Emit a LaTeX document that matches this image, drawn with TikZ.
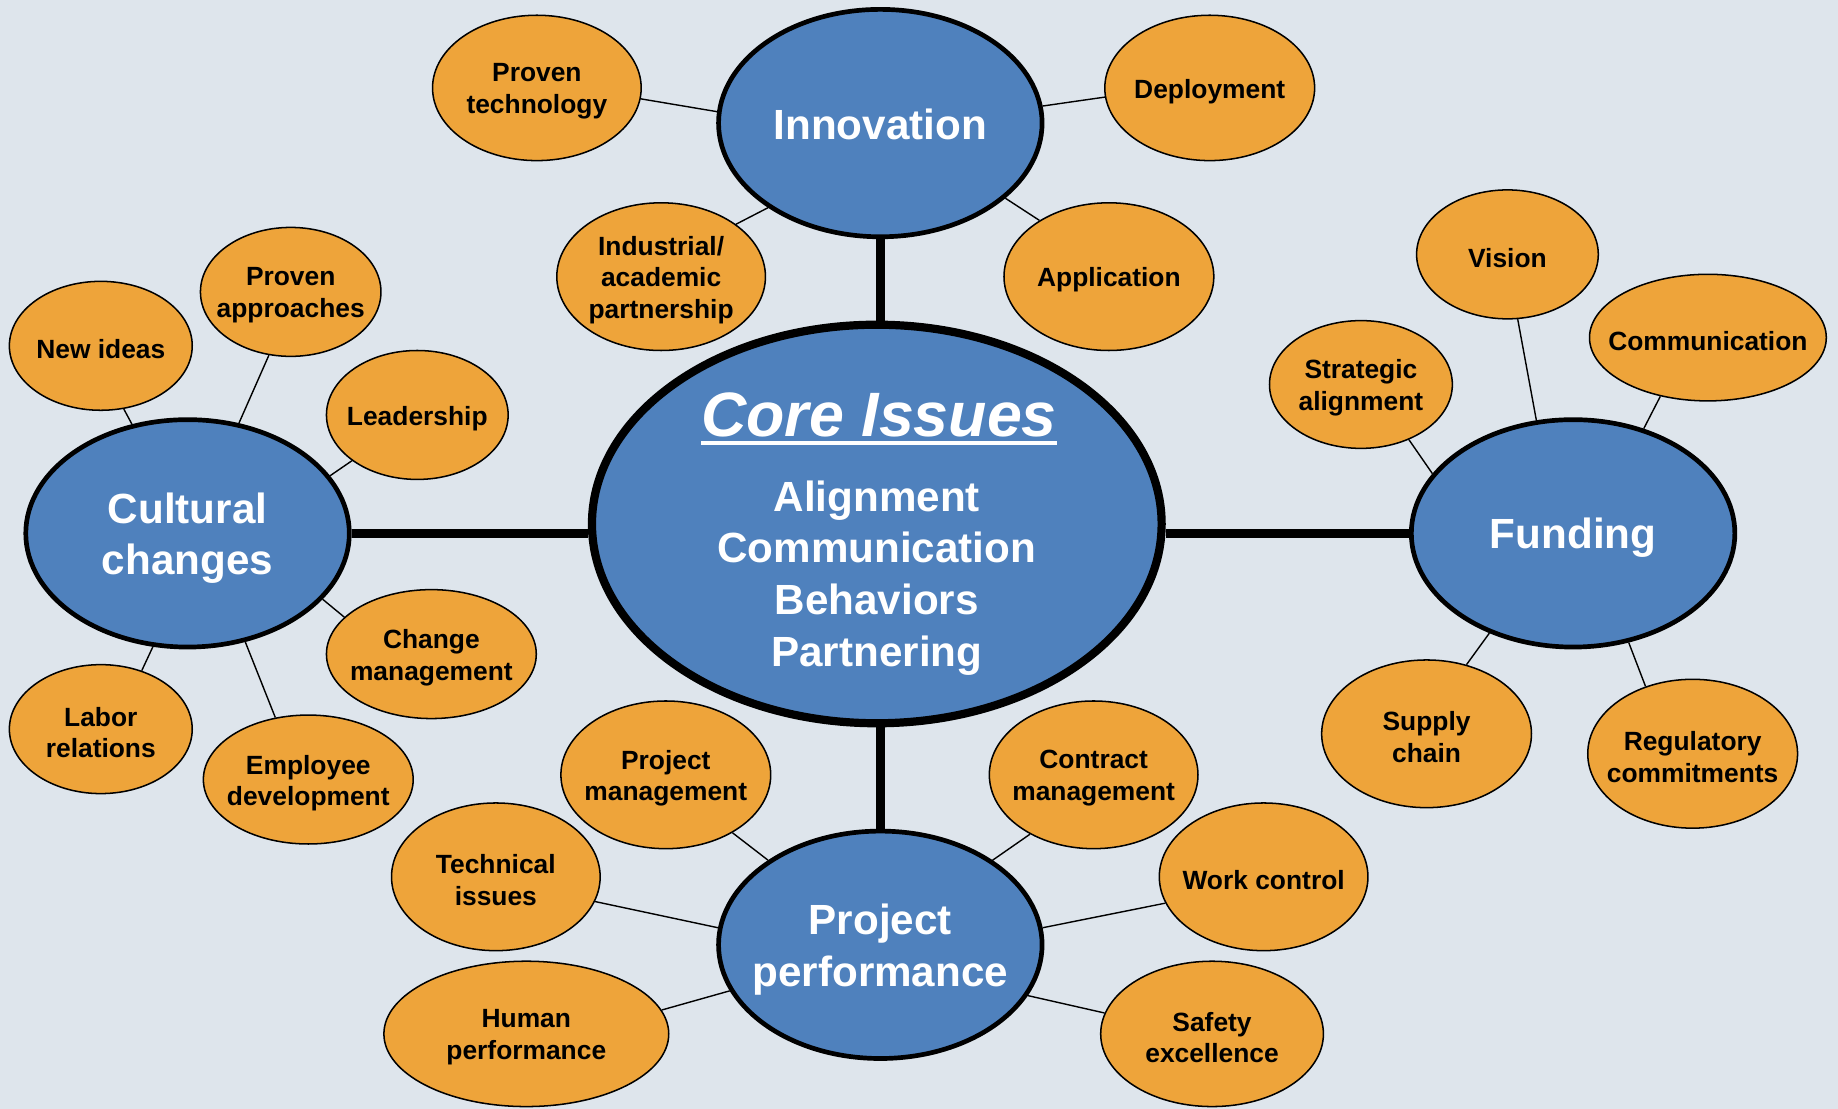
\documentclass[tikz,border=0pt]{standalone}
\usepackage{fontspec}
\setmainfont{Liberation Sans}
\usetikzlibrary{shapes.geometric}
\definecolor{bgc}{HTML}{DEE5EC}
\definecolor{myblue}{HTML}{4F81BD}
\definecolor{myorange}{HTML}{EEA43A}
\tikzset{
  bignode/.style={ellipse, draw=black, line width=4pt, fill=myblue, inner sep=0pt, minimum width=276pt, minimum height=194pt},
  bigtxt/.style={text=white, font=\bfseries\fontsize{36}{44}\selectfont, align=center, inner sep=0pt, yshift=-4pt},
  smallnode/.style={ellipse, draw=black, line width=1.3pt, fill=myorange, inner sep=0pt},
  smalltxt/.style={text=black, font=\bfseries\fontsize{22.5}{27}\selectfont, align=center, inner sep=0pt, yshift=-3pt},
  spoke/.style={draw=black, line width=1.2pt},
  trunk/.style={draw=black, line width=8pt},
}
\begin{document}
\begin{tikzpicture}[x=1pt, y=-1pt]
\fill[bgc] (0,0) rectangle (1568,946);
\useasboundingbox (0,0) rectangle (1568,946);

% core
\node[ellipse, draw=black, line width=7pt, fill=myblue, inner sep=0pt, minimum width=486pt, minimum height=340pt] (core) at (748,447) {};
\node[anchor=base, inner sep=0pt, text=white, font=\bfseries\itshape\fontsize{53.5}{60}\selectfont] (coretitle) at (750,372) {Core Issues};
\draw[white, line width=3pt] ([yshift=-6pt]coretitle.base west) -- ([yshift=-6pt]coretitle.base east);
\node[bigtxt, yshift=4pt] (corelist) at (748,493) {Alignment\\Communication\\Behaviors\\Partnering};

% main nodes
\node[bignode, label={[bigtxt, yshift=3pt]center:Innovation}] (inno) at (751,105) {};
\node[bignode, label={[bigtxt]center:{Cultural\\changes}}] (cult) at (160,455) {};
\node[bignode, label={[bigtxt]center:Funding}] (fund) at (1342,455) {};
\node[bignode, label={[bigtxt]center:{Project\\performance}}] (proj) at (751,806) {};

% innovation children
\node[smallnode, minimum width=178pt, minimum height=124pt, label={[smalltxt]center:{Proven\\technology}}] (ptech) at (458,75) {};
\node[smallnode, minimum width=179pt, minimum height=124pt, label={[smalltxt]center:Deployment}] (deploy) at (1032,75) {};
\node[smallnode, minimum width=178pt, minimum height=126pt, label={[smalltxt]center:{Industrial/\\academic\\partnership}}] (indus) at (564,236) {};
\node[smallnode, minimum width=179pt, minimum height=126pt, label={[smalltxt]center:Application}] (appl) at (946,236) {};

% cultural children
\node[smallnode, minimum width=156pt, minimum height=110pt, label={[smalltxt]center:New ideas}] (newid) at (86,295) {};
\node[smallnode, minimum width=154pt, minimum height=110pt, label={[smalltxt]center:{Proven\\approaches}}] (papp) at (248,249) {};
\node[smallnode, minimum width=155pt, minimum height=110pt, label={[smalltxt]center:Leadership}] (lead) at (356,354) {};
\node[smallnode, minimum width=179pt, minimum height=110pt, label={[smalltxt]center:{Change\\management}}] (chg) at (368,558) {};
\node[smallnode, minimum width=156pt, minimum height=110pt, label={[smalltxt]center:{Labor\\relations}}] (labor) at (86,622) {};
\node[smallnode, minimum width=179pt, minimum height=110pt, label={[smalltxt]center:{Employee\\development}}] (empl) at (263,665) {};

% funding children
\node[smallnode, minimum width=155pt, minimum height=110pt, label={[smalltxt]center:Vision}] (vision) at (1286,217) {};
\node[smallnode, minimum width=156pt, minimum height=109pt, label={[smalltxt]center:{Strategic\\alignment}}] (strat) at (1161,328) {};
\node[smallnode, minimum width=202pt, minimum height=108pt, label={[smalltxt]center:Communication}] (comm) at (1457,288) {};
\node[smallnode, minimum width=179pt, minimum height=126pt, label={[smalltxt]center:{Supply\\chain}}] (supply) at (1217,626) {};
\node[smallnode, minimum width=179pt, minimum height=127pt, label={[smalltxt]center:{Regulatory\\commitments}}] (reg) at (1444,643) {};

% project children
\node[smallnode, minimum width=179pt, minimum height=126pt, label={[smalltxt]center:{Project\\management}}] (pmgmt) at (568,661) {};
\node[smallnode, minimum width=178pt, minimum height=126pt, label={[smalltxt]center:{Contract\\management}}] (cmgmt) at (933,661) {};
\node[smallnode, minimum width=178pt, minimum height=126pt, label={[smalltxt]center:{Technical\\issues}}] (tech) at (423,748) {};
\node[smallnode, minimum width=178pt, minimum height=126pt, label={[smalltxt]center:Work control}] (work) at (1078,748) {};
\node[smallnode, minimum width=243pt, minimum height=124pt, label={[smalltxt]center:{Human\\performance}}] (human) at (449,882) {};
\node[smallnode, minimum width=190pt, minimum height=124pt, label={[smalltxt]center:{Safety\\excellence}}] (safety) at (1034,882) {};

% trunks
\draw[trunk] (inno.-90) -- (inno.-90 |- core.north);
\draw[trunk] (cult.0) -- (cult.0 -| core.west);
\draw[trunk] (fund.180) -- (fund.180 -| core.east);
\draw[trunk] (proj.90) -- (proj.90 |- core.south);

% spokes
\draw[spoke] (ptech.-6) -- (inno.176);
\draw[spoke] (deploy.-175) -- (inno.6);
\draw[spoke] (indus.35) -- (inno.217);
\draw[spoke] (appl.141) -- (inno.-31);

\draw[spoke] (newid.-70) -- (cult.117);
\draw[spoke] (papp.-109) -- (cult.65);
\draw[spoke] (lead.215) -- (cult.22);
\draw[spoke] (chg.157) -- (cult.-26);
\draw[spoke] (labor.55) -- (cult.-107);
\draw[spoke] (empl.118) -- (cult.-62);

\draw[spoke] (vision.-81) -- (fund.108);
\draw[spoke] (strat.-49) -- (fund.157);
\draw[spoke] (comm.-129) -- (fund.56);
\draw[spoke] (supply.60) -- (fund.-130);
\draw[spoke] (reg.125) -- (fund.-63);

\draw[spoke] (pmgmt.-41) -- (proj.143);
\draw[spoke] (cmgmt.-137) -- (proj.37);
\draw[spoke] (tech.-14) -- (proj.174);
\draw[spoke] (work.195) -- (proj.6);
\draw[spoke] (human.10) -- (proj.197);
\draw[spoke] (safety.169) -- (proj.-19);
\end{tikzpicture}
\end{document}
